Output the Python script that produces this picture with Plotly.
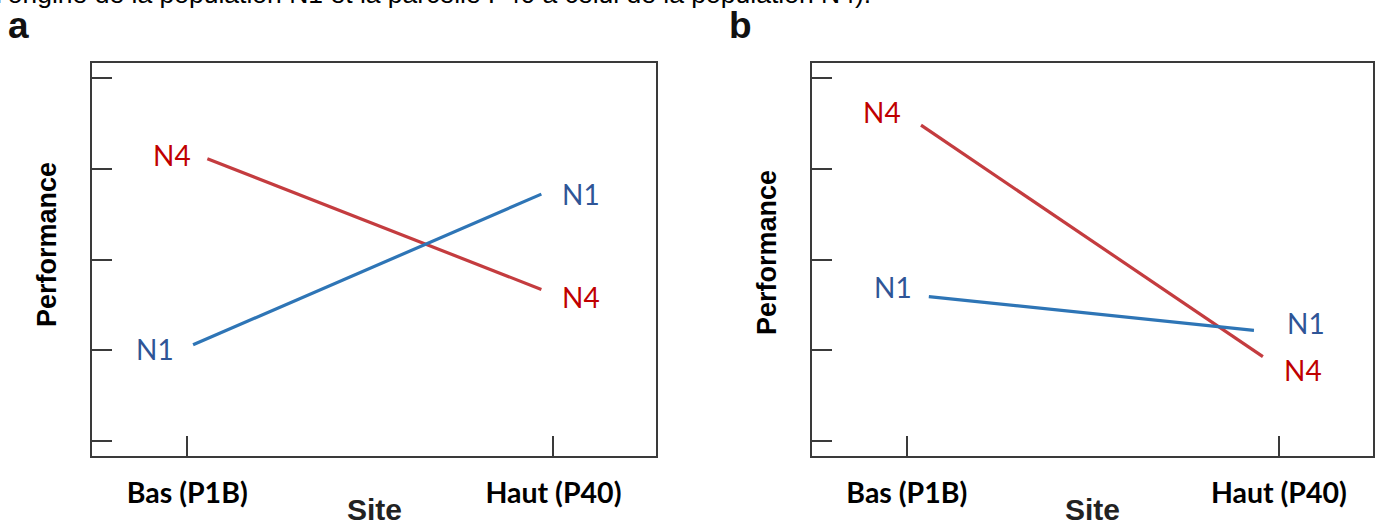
import plotly.graph_objects as go

# ---------------- data ----------------
sites = ["Bas (P1B)", "Haut (P40)"]
populations = ["N1", "N4"]
perf_a_N1 = [1.06, 2.72]
perf_a_N4 = [3.11, 1.67]
perf_b_N1 = [1.59, 1.22]
perf_b_N4 = [3.48, 0.93]
y_ticks = [0, 1, 2, 3, 4]
panel_letters = ["a", "b"]
x_title = "Site"
y_title = "Performance"
caption = "l\u2019origine de la population N1 et la parcelle P40 \u00e0 celui de la population N4)."

# ---------------- style ----------------
W, H = 1378, 526
LINE_COL = {"N1": "#2E75B6", "N4": "#C43C3F"}
LABEL_COL = {"N1": "#2F5597", "N4": "#C00000"}
FRAME = "#3a3a3a"
LABEL_FONT = "Lato, 'Liberation Sans', sans-serif"
ARIAL = "'Liberation Sans', Arial, sans-serif"

# pixel frames of the two panels (left, right, top, bottom)
frames = [(92, 656, 63, 456), (812, 1373, 63, 456)]
x_ranges = [[-0.26, 1.28], [-0.255, 1.253]]
y_range = [-0.165, 4.165]
# gap between category tick and line ends (fraction of category spacing)
insets = {
    0: {"N1": (0.016, 0.033), "N4": (0.055, 0.033)},
    1: {"N1": (0.059, 0.067), "N4": (0.038, 0.043)},
}
# label offsets in pixels: (start_dx, start_dy, end_dx, end_dy)
label_shift = {
    0: {"N1": (-17, -4, 19, 0), "N4": (-14, 4, 19, -8)},
    1: {"N1": (-15, 10, 31, 7), "N4": (-18, 13, 19, -13)},
}

panels = [
    {"N1": perf_a_N1, "N4": perf_a_N4},
    {"N1": perf_b_N1, "N4": perf_b_N4},
]

fig = go.Figure()
annotations = []

for p, data in enumerate(panels):
    xa = "x" if p == 0 else "x2"
    ya = "y" if p == 0 else "y2"
    for pop in ["N4", "N1"]:
        vals = data[pop]
        li, ri = insets[p][pop]
        xs = [0 + li, (len(sites) - 1) - ri]
        fig.add_trace(go.Scatter(
            x=xs, y=vals, mode="lines", xaxis=xa, yaxis=ya,
            line=dict(color=LINE_COL[pop], width=3.2),
            showlegend=False, hoverinfo="skip",
        ))
        sdx, sdy, edx, edy = label_shift[p][pop]
        annotations.append(dict(
            x=xs[0], y=vals[0], xref=xa, yref=ya, text=pop, showarrow=False,
            xanchor="right", yanchor="middle", xshift=sdx, yshift=sdy,
            font=dict(family=LABEL_FONT, size=28, color=LABEL_COL[pop]),
        ))
        annotations.append(dict(
            x=xs[1], y=vals[1], xref=xa, yref=ya, text=pop, showarrow=False,
            xanchor="left", yanchor="middle", xshift=edx, yshift=edy,
            font=dict(family=LABEL_FONT, size=28, color=LABEL_COL[pop]),
        ))

    l, r, t, b = frames[p]
    # y title
    annotations.append(dict(
        x=(l - 45) / W, y=1 - (245 if p == 0 else 253) / H, xref="paper", yref="paper",
        text="<b>%s</b>" % y_title, textangle=-90, showarrow=False,
        font=dict(family=ARIAL, size=27, color="#000000"),
        xanchor="center", yanchor="middle",
    ))
    # panel letter
    annotations.append(dict(
        x=(18 if p == 0 else 740) / W, y=1 - 26 / H, xref="paper", yref="paper",
        text="<b>%s</b>" % panel_letters[p], showarrow=False,
        font=dict(family=ARIAL, size=37, color="#111111"),
        xanchor="center", yanchor="middle",
    ))
    # x title
    annotations.append(dict(
        x=(l + r) / 2 / W, y=1 - 509 / H, xref="paper", yref="paper",
        text="<b>%s</b>" % x_title, showarrow=False,
        font=dict(family=ARIAL, size=30, color="#222222"),
        xanchor="center", yanchor="middle",
    ))

# caption cut off at the top
annotations.append(dict(
    x=-6 / W, y=1 - 11 / H, xref="paper", yref="paper", text=caption,
    showarrow=False, xanchor="left", yanchor="bottom",
    font=dict(family=ARIAL, size=26.5, color="#000000"),
))

def xaxis_cfg(p):
    l, r, t, b = frames[p]
    return dict(
        domain=[l / W, r / W], range=x_ranges[p],
        tickvals=list(range(len(sites))), ticktext=["<b>%s</b>" % s for s in sites],
        ticks="inside", ticklen=20, tickwidth=1.5, tickcolor=FRAME,
        showline=True, linecolor=FRAME, linewidth=2, mirror=True,
        showgrid=False, zeroline=False, ticklabelstandoff=11,
        tickfont=dict(family=LABEL_FONT, size=28.5, color="#000000"),
        automargin=False, fixedrange=True,
    )

def yaxis_cfg(p):
    l, r, t, b = frames[p]
    return dict(
        domain=[1 - b / H, 1 - t / H], range=y_range,
        tickvals=y_ticks, showticklabels=False,
        ticks="inside", ticklen=20, tickwidth=1.5, tickcolor=FRAME,
        showline=True, linecolor=FRAME, linewidth=2, mirror=True,
        showgrid=False, zeroline=False, fixedrange=True, automargin=False,
    )

fig.update_layout(
    width=W, height=H, margin=dict(l=0, r=0, t=0, b=0, autoexpand=False),
    paper_bgcolor="white", plot_bgcolor="white",
    xaxis=xaxis_cfg(0), yaxis=yaxis_cfg(0),
    xaxis2=dict(xaxis_cfg(1), anchor="y2"), yaxis2=dict(yaxis_cfg(1), anchor="x2"),
    annotations=annotations,
)
fig.update_layout(xaxis=dict(anchor="y"), yaxis=dict(anchor="x"))

fig.write_html(
    "out.html",
    config={"displayModeBar": False},
    post_script="document.body.style.margin='0px';document.body.style.padding='0px';",
)
